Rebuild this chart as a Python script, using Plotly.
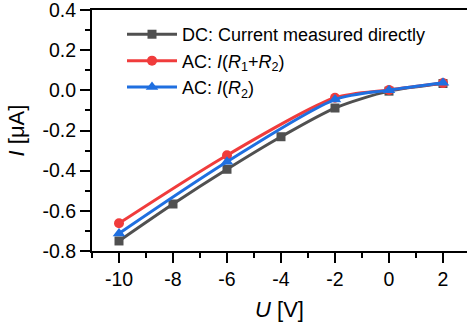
import plotly.graph_objects as go

# Voltage sweep points
u_dc = [-10, -8, -6, -4, -2, 0, 2]
i_dc = [-0.750, -0.566, -0.393, -0.231, -0.088, -0.004, 0.034]

u_ac = [-10, -6, -2, 0, 2]
i_ac_r1r2 = [-0.662, -0.323, -0.037, 0.002, 0.036]
i_ac_r2 = [-0.713, -0.356, -0.046, 0.001, 0.038]

x_ticks = [-10, -8, -6, -4, -2, 0, 2]
x_tick_text = ["-10", "-8", "-6", "-4", "-2", "0", "2"]
y_ticks = [-0.8, -0.6, -0.4, -0.2, 0.0, 0.2, 0.4]
y_tick_text = ["-0.8", "-0.6", "-0.4", "-0.2", "0.0", "0.2", "0.4"]

GRAY = "#505050"
RED = "#f03c3c"
BLUE = "#1f6fe0"
FONT = "Liberation Sans, Arial, sans-serif"

fig = go.Figure()
fig.add_trace(go.Scatter(
    x=u_dc, y=i_dc, mode="lines+markers",
    name="DC: Current measured directly",
    line=dict(color=GRAY, width=3, shape="spline", smoothing=0.8),
    marker=dict(symbol="square", size=9, color=GRAY),
))
fig.add_trace(go.Scatter(
    x=u_ac, y=i_ac_r1r2, mode="lines+markers",
    name="AC: <i>I</i>(<i>R</i><sub>1</sub>+<i>R</i><sub>2</sub>)",
    line=dict(color=RED, width=3, shape="spline", smoothing=0.8),
    marker=dict(symbol="circle", size=10, color=RED),
))
fig.add_trace(go.Scatter(
    x=u_ac, y=i_ac_r2, mode="lines+markers",
    name="AC: <i>I</i>(<i>R</i><sub>2</sub>)",
    line=dict(color=BLUE, width=3, shape="spline", smoothing=0.8),
    marker=dict(symbol="triangle-up", size=11, color=BLUE),
))

axis_common = dict(
    showgrid=False, zeroline=False,
    showline=True, linecolor="black", linewidth=2,
    ticks="outside", ticklen=10, tickwidth=1.5, tickcolor="black",
    tickfont=dict(family=FONT, size=19.5, color="black"),
    ticklabeloverflow="allow",
)

fig.update_xaxes(
    **axis_common,
    range=[-11, 2.889], mirror=True,
    tickvals=x_ticks, ticktext=x_tick_text,
    minor=dict(ticks="outside", ticklen=5, tickwidth=1.5, tickcolor="black", dtick=1, tick0=-11),
    title=dict(text="<i>U</i> [V]", font=dict(family=FONT, size=22, color="black"), standoff=12),
)
fig.update_yaxes(
    **axis_common,
    range=[-0.8, 0.4], mirror=False,
    tickvals=y_ticks, ticktext=y_tick_text,
    minor=dict(ticks="outside", ticklen=5, tickwidth=1.5, tickcolor="black", dtick=0.1, tick0=-0.8),
    title=dict(text="<i>I</i> [μA]", font=dict(family=FONT, size=22, color="black"), standoff=12),
)

fig.update_layout(
    width=467, height=326,
    margin=dict(l=92, r=0, t=10, b=75),
    plot_bgcolor="white", paper_bgcolor="white",
    showlegend=True,
    legend=dict(
        x=0.08, y=0.975, xanchor="left", yanchor="top",
        bgcolor="rgba(0,0,0,0)", borderwidth=0,
        font=dict(family=FONT, size=18, color="black"),
        itemwidth=50, tracegroupgap=0,
    ),
)

fig.write_html("out.html")
